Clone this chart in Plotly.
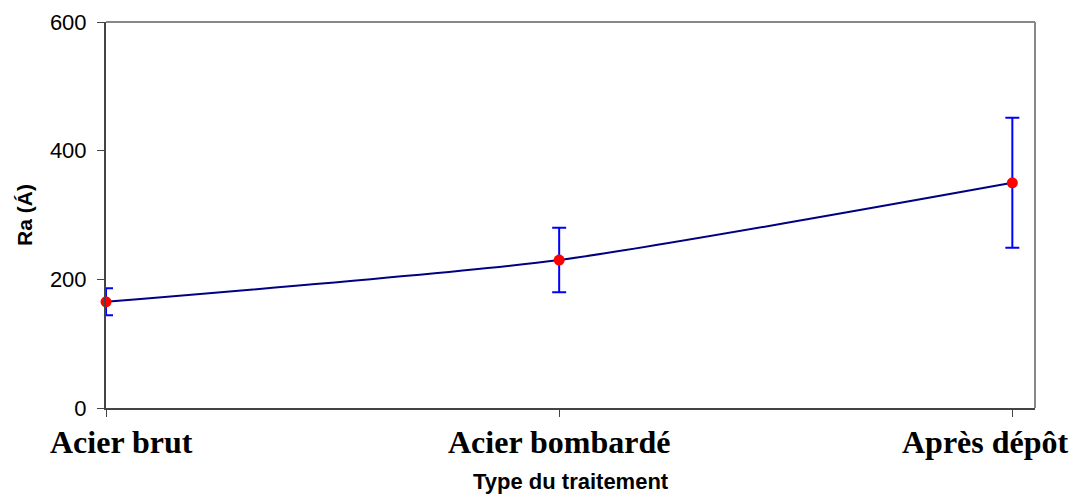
import plotly.graph_objects as go

categories = ["Acier brut", "Acier bombardé", "Après dépôt"]
ra_values = [165, 230, 350]
ra_errors = [21, 50, 101]
y_ticks = [0, 200, 400, 600]
# horizontal nudges of category labels (px), as Excel keeps them inside the chart
label_shift = [15, 0, -27]

fig = go.Figure()
fig.add_trace(go.Scatter(
    x=list(range(len(categories))), y=ra_values,
    mode="lines+markers",
    line=dict(color="#000080", width=2, shape="spline", smoothing=0.6),
    marker=dict(color="#ff0000", size=11),
    error_y=dict(type="data", array=ra_errors, color="#0000ff", thickness=2, width=7),
    showlegend=False, cliponaxis=False,
))

for i, (cat, dx) in enumerate(zip(categories, label_shift)):
    fig.add_annotation(
        x=i, xref="x", y=0, yref="paper", yanchor="top", xanchor="center",
        xshift=dx, yshift=-14, showarrow=False, text=f"<b>{cat}</b>",
        font=dict(family="Liberation Serif", size=32, color="black"),
    )

fig.add_annotation(
    x=0.5, xref="paper", y=0, yref="paper", yanchor="top", xanchor="center",
    yshift=-59, showarrow=False, text="<b>Type du traitement</b>",
    font=dict(family="Liberation Sans", size=22, color="black"),
)

fig.update_layout(
    width=1072, height=495,
    margin=dict(l=106, r=37, t=22, b=87),
    paper_bgcolor="white", plot_bgcolor="white",
    xaxis=dict(
        range=[0, 2.05], tickvals=list(range(len(categories))), ticktext=[""] * len(categories),
        showgrid=False, zeroline=False, showline=True, linecolor="#444", linewidth=2,
        ticks="outside", ticklen=7, tickcolor="#444", tickwidth=1,
        automargin=False,
    ),
    yaxis=dict(
        range=[0, 600], tickvals=y_ticks,
        showgrid=False, zeroline=False, showline=True, linecolor="#444", linewidth=2,
        ticks="outside", ticklen=7, tickcolor="#444", tickwidth=1,
        automargin=False, ticklabelstandoff=6,
        tickfont=dict(family="Liberation Sans", size=22, color="black"),
        title=dict(text="<b>Ra (Á)</b>", font=dict(family="Liberation Sans", size=21, color="black"), standoff=12),
    ),
    shapes=[
        dict(type="line", xref="paper", yref="paper", x0=0, x1=1, y0=1, y1=1, line=dict(color="#888", width=2)),
        dict(type="line", xref="paper", yref="paper", x0=1, x1=1, y0=0, y1=1, line=dict(color="#888", width=2)),
    ],
)

fig.write_html("out.html", config={"displayModeBar": False},
               post_script="document.body.style.margin='0';")
